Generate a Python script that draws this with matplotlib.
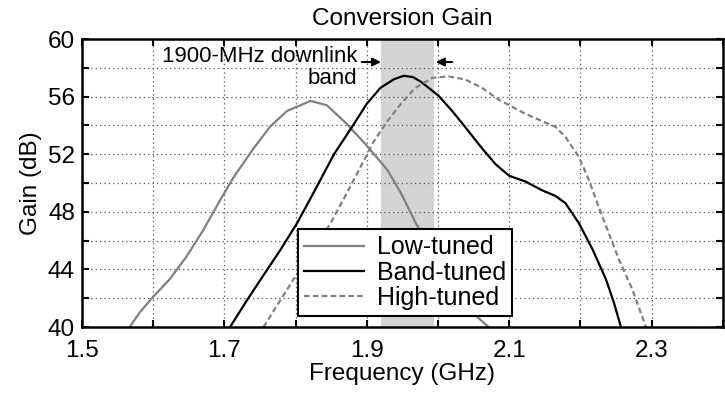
import matplotlib
matplotlib.use('Agg')
import matplotlib.pyplot as plt
from matplotlib.ticker import FuncFormatter

plt.rcParams['font.family'] = ['Liberation Sans', 'DejaVu Sans']

# measured conversion gain (GHz, dB)
low_freq = [1.567, 1.581, 1.600, 1.623, 1.647, 1.670, 1.694, 1.713, 1.741, 1.764,
            1.788, 1.821, 1.844, 1.872, 1.900, 1.929, 1.948, 1.969, 2.000, 2.025,
            2.053, 2.071]
low_gain = [40.0, 41.0, 42.1, 43.3, 44.9, 46.7, 48.8, 50.4, 52.4, 53.9,
            55.0, 55.7, 55.4, 54.1, 52.6, 50.9, 49.3, 47.2, 44.6, 42.6,
            40.8, 40.0]

band_freq = [1.708, 1.731, 1.755, 1.778, 1.802, 1.825, 1.854, 1.882, 1.900, 1.919,
             1.938, 1.952, 1.965, 1.977, 2.001, 2.020, 2.038, 2.062, 2.081, 2.100,
             2.123, 2.146, 2.165, 2.179, 2.198, 2.217, 2.236, 2.247, 2.257]
band_gain = [40.0, 41.8, 43.6, 45.3, 47.2, 49.3, 52.0, 54.1, 55.5, 56.6,
             57.2, 57.45, 57.35, 57.0, 56.05, 55.0, 53.9, 52.4, 51.3, 50.5,
             50.1, 49.5, 49.1, 48.6, 47.2, 45.4, 43.3, 41.7, 40.0]

high_freq = [1.755, 1.774, 1.797, 1.825, 1.849, 1.872, 1.891, 1.910, 1.929, 1.948,
             1.968, 1.992, 2.015, 2.038, 2.062, 2.085, 2.100, 2.123, 2.146, 2.165,
             2.179, 2.198, 2.212, 2.226, 2.240, 2.254, 2.273, 2.292]
high_gain = [40.0, 41.5, 43.3, 45.3, 47.2, 49.3, 51.1, 52.9, 54.3, 55.5,
             56.6, 57.3, 57.4, 57.2, 56.6, 55.8, 55.4, 54.8, 54.3, 53.9,
             53.2, 51.8, 50.2, 48.3, 46.5, 44.7, 42.6, 40.0]

band_lo, band_hi = 1.92, 1.995
x_ticks = [1.5, 1.6, 1.7, 1.8, 1.9, 2.0, 2.1, 2.2, 2.3, 2.4]
y_ticks = [40, 42, 44, 46, 48, 50, 52, 54, 56, 58, 60]

fig = plt.figure(figsize=(7.25, 3.94), dpi=100)
ax = fig.add_axes([0.113, 0.170, 0.884, 0.731])

ax.axvspan(band_lo, band_hi, color='#d4d4d4', lw=0, zorder=1)
ax.plot(low_freq, low_gain, color='#808080', lw=1.6, label='Low-tuned', zorder=3)
ax.plot(band_freq, band_gain, color='black', lw=1.6, label='Band-tuned', zorder=3)
ax.plot(high_freq, high_gain, color='#808080', lw=1.6, ls=(0, (2.5, 1.5)),
        label='High-tuned', zorder=3)

ax.set_xlim(1.5, 2.4)
ax.set_ylim(40, 60)
ax.set_xticks(x_ticks)
ax.set_yticks(y_ticks)
# label every other tick only
ax.xaxis.set_major_formatter(FuncFormatter(
    lambda v, p: '%.1f' % v if p % 2 == 0 and p < 9 else ''))
ax.yaxis.set_major_formatter(FuncFormatter(
    lambda v, p: '%d' % v if p % 2 == 0 else ''))
ax.tick_params(direction='in', length=5, width=1.5, top=True, right=True,
               labelsize=17.5)
ax.tick_params(axis='x', pad=9)
ax.tick_params(axis='y', pad=5)
ax.grid(True, color='#555555', ls=(0, (1, 2.5)), lw=0.9, zorder=0)
for s in ax.spines.values():
    s.set_linewidth(1.8)
    s.set_zorder(5)

ax.set_title('Conversion Gain', fontsize=17.5, pad=10)
ax.set_xlabel('Frequency (GHz)', fontsize=17.5, labelpad=1)
ax.set_ylabel('Gain (dB)', fontsize=17.5, labelpad=4)

ax.text(1.887, 58.0, '1900-MHz downlink\nband', ha='right', va='center',
        fontsize=16, linespacing=1.05, zorder=4)
ax.annotate('', xy=(band_lo, 58.4), xytext=(1.893, 58.4),
            arrowprops=dict(arrowstyle='-|>', color='black', lw=1.5,
                            mutation_scale=12, shrinkA=0, shrinkB=0))
ax.annotate('', xy=(band_hi + 0.002, 58.4), xytext=(2.02, 58.4),
            arrowprops=dict(arrowstyle='-|>', color='black', lw=1.5,
                            mutation_scale=12, shrinkA=0, shrinkB=0))

leg = ax.legend(loc='lower right', bbox_to_anchor=(0.671, 0.038), fontsize=18,
                fancybox=False, framealpha=1, edgecolor='black',
                handlelength=2.4, borderpad=0.25, labelspacing=0.05,
                handletextpad=0.5, borderaxespad=0)
leg.get_frame().set_linewidth(1.5)
leg.set_zorder(6)

fig.savefig('out.png', dpi=100)
